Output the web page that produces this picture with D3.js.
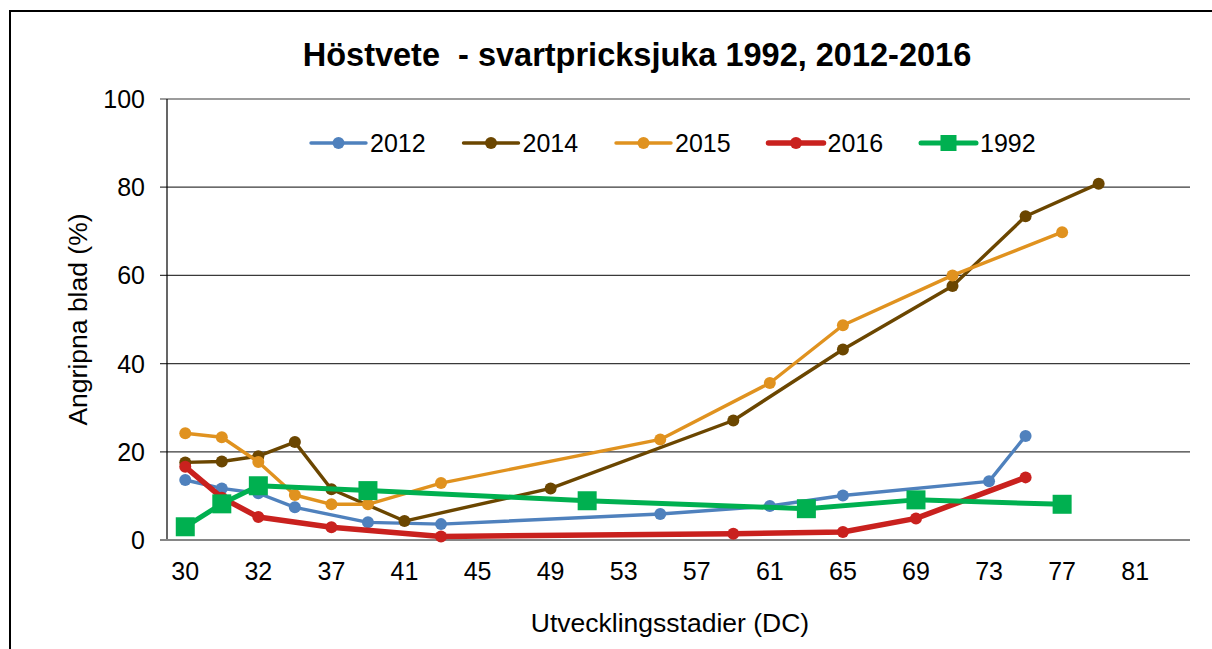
<!DOCTYPE html>
<html>
<head>
<meta charset="utf-8">
<script src="https://cdn.jsdelivr.net/npm/d3@7"></script>
<style>
    body { margin: 0; background: #fff; }
    text { font-family: "Liberation Sans", Arial, sans-serif; fill: #000; }
    .title { font-weight: bold; font-size: 32.5px; }
    .tick-label { font-size: 25px; }
    .axis-title { font-size: 26.5px; }
    .legend-label { font-size: 25px; }
</style>
</head>
<body>
<div id="scene"></div>
<script>
// x positions are the plot positions on the DC axis, the tick labels are what the chart prints
const xTickPositions = [29, 33, 37, 41, 45, 49, 53, 57, 61, 65, 69, 73, 77, 81];
const xTickLabels = ['30', '32', '37', '41', '45', '49', '53', '57', '61', '65', '69', '73', '77', '81'];
const yTicks = [0, 20, 40, 60, 80, 100];

const x2012 = [29, 31, 33, 35, 39, 43, 55, 61, 65, 73, 75];
const y2012 = [13.6, 11.7, 10.6, 7.4, 4.0, 3.6, 5.9, 7.7, 10.1, 13.3, 23.6];

const x2014 = [29, 31, 33, 35, 37, 41, 49, 59, 65, 71, 75, 79];
const y2014 = [17.6, 17.8, 19.0, 22.2, 11.5, 4.3, 11.7, 27.1, 43.2, 57.6, 73.4, 80.8];

const x2015 = [29, 31, 33, 35, 37, 39, 43, 55, 61, 65, 71, 77];
const y2015 = [24.2, 23.3, 17.7, 10.2, 8.1, 8.1, 12.9, 22.8, 35.6, 48.7, 60.0, 69.8];

const x2016 = [29, 31, 33, 37, 43, 59, 65, 69, 75];
const y2016 = [16.6, 9.6, 5.2, 2.9, 0.8, 1.4, 1.8, 4.9, 14.2];

const x1992 = [29, 31, 33, 39, 51, 63, 69, 77];
const y1992 = [3.0, 8.2, 12.3, 11.2, 8.9, 7.1, 9.1, 8.1];

const seriesNames = ['2012', '2014', '2015', '2016', '1992'];
const seriesColors = ['#4f81bd', '#6b4600', '#e0921f', '#c9211e', '#00b050'];

const width = 1212;
const height = 649;

const toPoints = (xs, ys) => xs.map((x, i) => ({ x: x, y: ys[i] }));

const series = [
    { name: seriesNames[0], color: seriesColors[0], data: toPoints(x2012, y2012), lineWidth: 3.4, marker: 'circle', size: 6 },
    { name: seriesNames[1], color: seriesColors[1], data: toPoints(x2014, y2014), lineWidth: 3.4, marker: 'circle', size: 6 },
    { name: seriesNames[2], color: seriesColors[2], data: toPoints(x2015, y2015), lineWidth: 3.4, marker: 'circle', size: 6 },
    { name: seriesNames[3], color: seriesColors[3], data: toPoints(x2016, y2016), lineWidth: 5.5, marker: 'circle', size: 6 },
    { name: seriesNames[4], color: seriesColors[4], data: toPoints(x1992, y1992), lineWidth: 5, marker: 'square', size: 19 },
];

const plotLeft = 167;
const plotRight = 1190;
const plotTop = 99;
const plotBottom = 540;

const xScale = d3.scaleLinear().domain([28, 84]).range([plotLeft, plotRight]);
const yScale = d3.scaleLinear().domain([0, 100]).range([plotBottom, plotTop]);

const svg = d3.select('#scene')
    .append('svg')
    .attr('width', width)
    .attr('height', height);

// outer frame (right and bottom edges are outside the picture)
svg.append('rect')
    .attr('x', 10)
    .attr('y', 11)
    .attr('width', 1300)
    .attr('height', 800)
    .attr('fill', 'none')
    .attr('stroke', '#000')
    .attr('stroke-width', 2);

svg.append('text')
    .attr('class', 'title')
    .attr('x', 637)
    .attr('y', 66)
    .attr('text-anchor', 'middle')
    .attr('xml:space', 'preserve')
    .text('Höstvete  - svartpricksjuka 1992, 2012-2016');

// gridlines
svg.selectAll('.grid')
    .data(yTicks.filter(d => d > 0))
    .enter().append('line')
    .attr('class', 'grid')
    .attr('x1', plotLeft - 7)
    .attr('x2', plotRight)
    .attr('y1', d => yScale(d))
    .attr('y2', d => yScale(d))
    .attr('stroke', '#3a3a3a')
    .attr('stroke-width', 1.2);

// y axis
svg.append('line')
    .attr('x1', plotLeft)
    .attr('x2', plotLeft)
    .attr('y1', plotTop)
    .attr('y2', plotBottom)
    .attr('stroke', '#000')
    .attr('stroke-width', 1.2);

svg.selectAll('.y-label')
    .data(yTicks)
    .enter().append('text')
    .attr('class', 'tick-label')
    .attr('x', 145)
    .attr('y', d => yScale(d))
    .attr('dy', 9)
    .attr('text-anchor', 'end')
    .text(d => d);

// x axis
svg.append('line')
    .attr('x1', plotLeft - 7)
    .attr('x2', plotRight)
    .attr('y1', plotBottom)
    .attr('y2', plotBottom)
    .attr('stroke', '#868686')
    .attr('stroke-width', 2);

svg.selectAll('.x-label')
    .data(xTickPositions)
    .enter().append('text')
    .attr('class', 'tick-label')
    .attr('x', d => xScale(d))
    .attr('y', 580)
    .attr('text-anchor', 'middle')
    .text((d, i) => xTickLabels[i]);

svg.append('text')
    .attr('class', 'axis-title')
    .attr('x', 670)
    .attr('y', 632)
    .attr('text-anchor', 'middle')
    .text('Utvecklingsstadier (DC)');

svg.append('text')
    .attr('class', 'axis-title')
    .attr('transform', 'translate(87,' + ((plotTop + plotBottom) / 2) + ') rotate(-90)')
    .attr('text-anchor', 'middle')
    .text('Angripna blad (%)');

const line = d3.line()
    .x(d => xScale(d.x))
    .y(d => yScale(d.y));

series.forEach(s => {
    const g = svg.append('g');
    g.append('path')
        .datum(s.data)
        .attr('d', line)
        .attr('fill', 'none')
        .attr('stroke', s.color)
        .attr('stroke-width', s.lineWidth)
        .attr('stroke-linejoin', 'round')
        .attr('stroke-linecap', 'round');
    if (s.marker === 'circle') {
        g.selectAll('circle')
            .data(s.data)
            .enter().append('circle')
            .attr('cx', d => xScale(d.x))
            .attr('cy', d => yScale(d.y))
            .attr('r', s.size)
            .attr('fill', s.color);
    } else {
        g.selectAll('rect')
            .data(s.data)
            .enter().append('rect')
            .attr('x', d => xScale(d.x) - s.size / 2)
            .attr('y', d => yScale(d.y) - s.size / 2)
            .attr('width', s.size)
            .attr('height', s.size)
            .attr('fill', s.color);
    }
});

// legend
const legend = svg.append('g').attr('transform', 'translate(311,143)');
const legendStep = 152.5;
series.forEach((s, i) => {
    const item = legend.append('g').attr('transform', 'translate(' + (i * legendStep) + ',0)');
    item.append('line')
        .attr('x1', 0)
        .attr('x2', 55)
        .attr('y1', 0)
        .attr('y2', 0)
        .attr('stroke', s.color)
        .attr('stroke-width', s.lineWidth)
        .attr('stroke-linecap', 'round');
    if (s.marker === 'circle') {
        item.append('circle')
            .attr('cx', 27.5)
            .attr('cy', 0)
            .attr('r', 6)
            .attr('fill', s.color);
    } else {
        item.append('rect')
            .attr('x', 27.5 - 8)
            .attr('y', -8)
            .attr('width', 16)
            .attr('height', 16)
            .attr('fill', s.color);
    }
    item.append('text')
        .attr('class', 'legend-label')
        .attr('x', 59)
        .attr('y', 9)
        .text(s.name);
});
</script>
</body>
</html>
